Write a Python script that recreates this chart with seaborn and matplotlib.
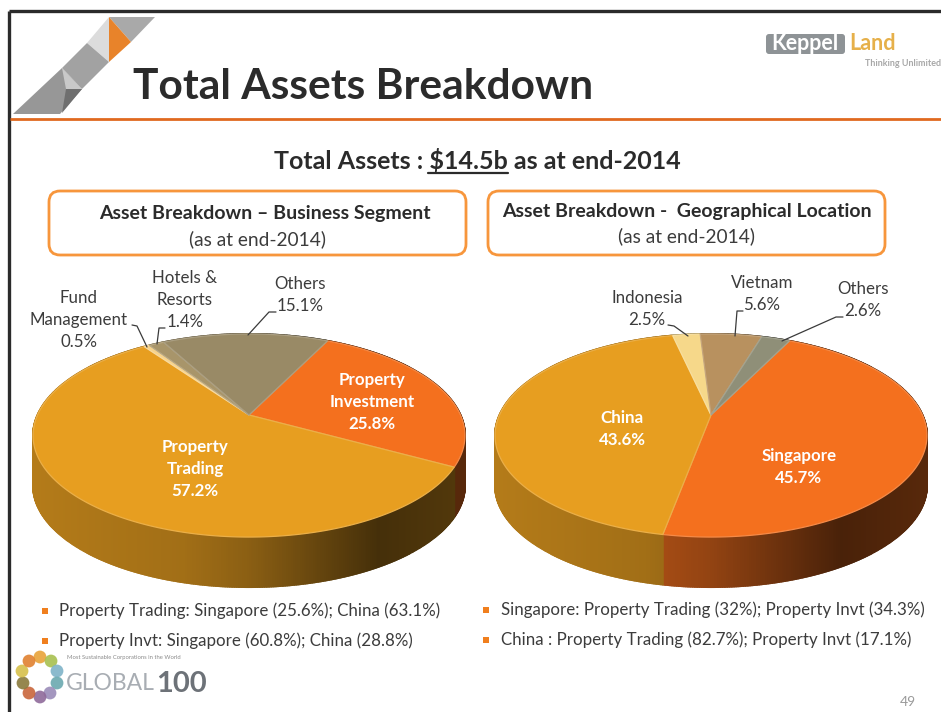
import numpy as np
import matplotlib
matplotlib.use("Agg")
import matplotlib.pyplot as plt
from matplotlib.patches import FancyBboxPatch, Polygon
import seaborn as sns

# 1. Data
SEGMENT_NAMES = ["Property Investment", "Property Trading", "Fund Management", "Hotels & Resorts", "Others"]
SEGMENT_VALUES = [25.8, 57.2, 0.5, 1.4, 15.1]
SEGMENT_COLORS = ["#f4701e", "#e79e20", "#f6d38c", "#a8956a", "#998a66"]

GEO_NAMES = ["Singapore", "China", "Indonesia", "Vietnam", "Others"]
GEO_VALUES = [45.7, 43.6, 2.5, 5.6, 2.6]
GEO_COLORS = ["#f4701e", "#e79e20", "#f6d88a", "#b8915f", "#8f8f78"]

LEFT_BULLETS = ["Property Trading: Singapore (25.6%); China (63.1%)",
                "Property Invt: Singapore (60.8%); China (28.8%)"]
RIGHT_BULLETS = ["Singapore: Property Trading (32%); Property Invt (34.3%)",
                 "China : Property Trading (82.7%); Property Invt (17.1%)"]

# 2. Theme
sns.set_theme(style="white")
plt.rcParams["font.family"] = ["Lato", "DejaVu Sans"]
TEXT = "#3c3c3c"
ORANGE = "#f7963c"

fig = plt.figure(figsize=(9.41, 7.12), dpi=100)
ax = fig.add_axes([0, 0, 1, 1])


def label(x, y, s, size=12.2, color=TEXT, weight="normal", ha="center"):
    ax.text(x, y, s, fontsize=size, color=color, fontweight=weight, ha=ha, va="center",
            linespacing=1.45, zorder=10)


def pie3d(values, colors, cx):
    # pie gives the slice angles, the wedges are then redrawn tilted with a perspective
    wedges, _ = ax.pie(values, colors=sns.color_palette(colors), startangle=64, counterclock=False)
    k, rx, ry, cy, depth = 0.202, 211.5, 97.4, 415, 50
    xp = [0.0, 0.35, 0.5, 0.8, 1.0]
    fp = [0.78, 0.70, 0.60, 0.30, 0.36]

    def project(theta):
        u, v = np.cos(theta), np.sin(theta)
        w = 1 + k * v
        return cx + rx * u / w, cy - ry * v / w

    for wedge in wedges:
        wedge.set_visible(False)
        face = np.array(wedge.get_facecolor()[:3])
        angles = np.radians(np.linspace(wedge.theta1, wedge.theta2, max(int(wedge.theta2 - wedge.theta1) * 2, 2) + 1))
        xs, ys = project(angles)
        # side of the disc, darker towards the right
        for i in range(len(xs) - 1):
            t = (xs[i] - (cx - 216)) / 432
            shade = face * np.interp(t, xp, fp)
            ax.add_patch(Polygon([(xs[i], ys[i]), (xs[i + 1], ys[i + 1]),
                                  (xs[i + 1], ys[i + 1] + depth), (xs[i], ys[i] + depth)],
                                 facecolor=shade, edgecolor=shade, lw=1.4, zorder=2))
    for wedge in wedges:
        face = np.array(wedge.get_facecolor()[:3])
        angles = np.radians(np.linspace(wedge.theta1, wedge.theta2, max(int(wedge.theta2 - wedge.theta1) * 2, 2) + 1))
        xs, ys = project(angles)
        edge = face + (1 - face) * 0.18
        ax.add_patch(Polygon(np.column_stack([np.r_[cx, xs], np.r_[cy, ys]]), facecolor=face,
                             edgecolor=edge, lw=0.9, zorder=3))


pie3d(SEGMENT_VALUES, SEGMENT_COLORS, 249)
pie3d(GEO_VALUES, GEO_COLORS, 711)

# pixel coordinates for everything on the slide
ax.set_aspect("auto")
ax.set_xlim(0, 941)
ax.set_ylim(712, 0)
ax.axis("off")

# 3. Slide frame and header
ax.plot([9.5, 9.5], [712, 11], color="#2b2b2b", lw=2.4, zorder=5, solid_capstyle="butt")
ax.plot([9.5, 941], [11, 11], color="#2b2b2b", lw=2.4, zorder=5, solid_capstyle="butt")
ax.plot([10, 941], [118.5, 118.5], color="#e0691f", lw=2.0, zorder=5, solid_capstyle="butt")

logo_parts = [
    ([(109, 17), (155, 17), (131, 42)], "#a9a9a9"),
    ([(109, 17), (131, 42), (109, 62)], "#e8832a"),
    ([(109, 17), (109, 62), (87, 43)], "#dcdcdc"),
    ([(87, 43), (109, 62), (82, 89), (62, 68)], "#a2a2a2"),
    ([(62, 68), (82, 89), (60, 114), (13, 114)], "#979797"),
    ([(62, 68), (82, 89), (66, 89)], "#c9c9c9"),
    ([(66, 89), (82, 89), (62, 113)], "#6f6f6f"),
]
for pts, col in logo_parts:
    ax.add_patch(Polygon(pts, facecolor=col, edgecolor="none", zorder=4))

label(133, 87, "Total Assets Breakdown", size=30.6, color="#2b2b2b", weight="bold", ha="left")

# Keppel Land logo
ax.add_patch(FancyBboxPatch((766, 34), 79, 20, boxstyle="round,pad=0,rounding_size=3", facecolor="#8e9396",
                            edgecolor="none", zorder=4))
label(805, 44, "Keppel", size=15.5, color="white", weight="bold")
label(873, 44, "Land", size=15.5, color="#e6b04a", weight="bold")
label(941, 63, "Thinking Unlimited", size=6.5, color="#a8a8a8", ha="right", weight="bold")

# 4. Headings
label(477, 161, "Total Assets : \\$14.5b as at end-2014", size=18, color="#2b2b2b", weight="bold")
ax.plot([428, 508], [172.5, 172.5], color="#2b2b2b", lw=1.6, zorder=5)

for x0, w in [(49, 417), (488, 397)]:
    ax.add_patch(FancyBboxPatch((x0, 191), w, 64, boxstyle="round,pad=0,rounding_size=11", facecolor="white",
                                edgecolor=ORANGE, lw=2.0, zorder=4))
label(265, 214, "Asset Breakdown – Business Segment", size=14, color="#2b2b2b", weight="bold")
label(258, 239, "(as at end-2014)", size=13.8)
label(687, 211, "Asset Breakdown -  Geographical Location", size=14, color="#2b2b2b", weight="bold")
label(687, 236, "(as at end-2014)", size=13.8)

# 5. Slice labels
label(79, 320, "Fund\nManagement\n0.5%")
label(185, 300, "Hotels &\nResorts\n1.4%")
label(300, 295, "Others\n15.1%")
label(195, 469, "Property\nTrading\n57.2%", color="white", weight="bold")
label(372, 402, "Property\nInvestment\n25.8%", color="white", weight="bold")

label(647, 309, "Indonesia\n2.5%")
label(762, 294, "Vietnam\n5.6%")
label(863, 300, "Others\n2.6%")
label(622, 429, "China\n43.6%", color="white", weight="bold")
label(799, 467, "Singapore\n45.7%", color="white", weight="bold")

leaders = [
    [(132, 325), (137, 326), (147, 347)],
    [(165, 328), (159, 328), (157, 344)],
    [(276, 312), (269, 312), (248, 335)],
    [(668, 325), (674, 326), (688, 336)],
    [(743, 311), (737, 311), (735, 336)],
    [(843, 317), (836, 317), (782, 341)],
]
for pts in leaders:
    xs, ys = zip(*pts)
    ax.plot(xs, ys, color="#3a3a3a", lw=0.9, zorder=6)

# 6. Bullets
for bullets, bx, tx, y0 in [(LEFT_BULLETS, 45, 59, 611), (RIGHT_BULLETS, 486, 501, 610)]:
    for i, s in enumerate(bullets):
        y = y0 + 30 * i
        ax.scatter([bx], [y], marker="s", s=14, color="#f07f1e", linewidths=0, zorder=6)
        label(tx, y, s, size=12.2, ha="left")

# 7. Global 100 logo and page number
ring = ["#e8a33a", "#a8c050", "#7fb3c8", "#6aa9b0", "#9a8cb8", "#8f6a9a", "#c9663c", "#8a7a3c", "#d6c04a", "#e0812f"]
ring_x = [40, 51, 57, 57, 50, 40, 29, 23, 22, 29]
ring_y = [657, 661, 671, 683, 693, 697, 693, 683, 671, 661]
ax.scatter(ring_x, ring_y, s=85, c=ring, linewidths=0, alpha=0.9, zorder=6)
label(67, 658, "Most Sustainable Corporations in the World", size=4.2, color="#8a8a8a", ha="left")
label(66, 684, "GLOBAL", size=16.5, color="#a8adb3", ha="left")
label(156, 684, "100", size=21, color="#6d7278", weight="bold", ha="left")
label(908, 702, "49", size=10, color="#9a9a9a")

fig.savefig("out.png", dpi=100)
plt.close(fig)
